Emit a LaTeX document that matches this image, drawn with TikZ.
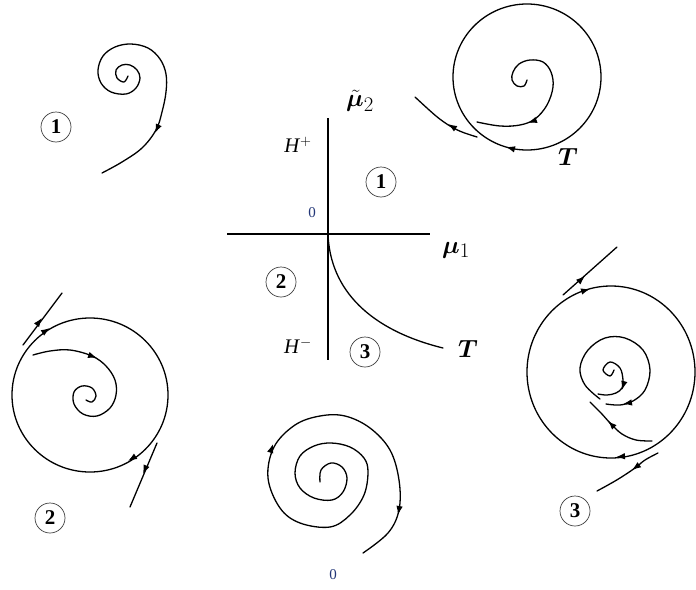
\documentclass[tikz,border=0pt]{standalone}
\usepackage{amsmath,bm}
\usepackage{fontspec}
\setmainfont{Liberation Serif}
\usetikzlibrary{arrows.meta}
\definecolor{zeroblue}{RGB}{35,55,120}
\newcommand{\tipat}[2]{\draw[tipa] (#1) ++(#2+180:3) -- (#1);}
\begin{document}
\begin{tikzpicture}[x=1pt,y=-1pt,
  traj/.style={line width=1.3pt, line cap=round, line join=round},
  axis/.style={line width=1.2pt},
  tipa/.style={-{Latex[length=9pt,width=6.5pt]}, line width=1.2pt},
  circnum/.style={circle, draw=black!75, line width=0.7pt, minimum size=30pt, inner sep=0pt, font=\fontsize{21}{22}\selectfont\bfseries},
  lab/.style={inner sep=0pt, font=\fontsize{20.74}{24}\selectfont},
  biglab/.style={inner sep=0pt, font=\fontsize{24.88}{28}\selectfont},
  zero/.style={inner sep=0pt, text=zeroblue, font=\fontsize{15}{16}\selectfont}]
\useasboundingbox (0,0) rectangle (696,589);
\fill[white] (0,0) rectangle (696,589);

% ---------- central bifurcation diagram ----------
\coordinate (O) at (328,234);
\coordinate (vtop) at (328,118);
\coordinate (vbot) at (328,360);
\coordinate (hl) at (227,234);
\coordinate (hr) at (430,234);
\coordinate (Tend) at (443,348);
\draw[axis] (vtop) -- (vbot);
\draw[axis] (hl) -- (hr);
\draw[traj] (O) .. controls (330,290) and (370,330) .. (Tend);
\node[biglab] (mu2) at (360,101) {$\tilde{\bm{\mu}}_2$};
\node[lab] (Hp) at (298,145) {\textit{H}$^{+}$};
\node[lab] (Hm) at (298,346) {\textit{H}$^{-}$};
\node[biglab] (mu1) at (456,250) {$\bm{\mu}_1$};
\node[biglab] (Tc) at (468,349) {$\bm{T}$};
\node[zero] (zc) at (312,213) {0};
\node[circnum] (c1) at (381,182) {1};
\node[circnum] (c2) at (281,282) {2};
\node[circnum] (c3) at (365,352) {3};

% ---------- panel 1 (top left) ----------
\draw[traj] plot[smooth, tension=0.6] coordinates {(128,76) (124,82) (117,78) (116,70) (122,65) (130,65) (137,70) (140,78) (136,88) (126,94) (111,92) (101,83) (98,70) (103,56) (115,47) (131,44) (148,48) (160,59) (166,74) (166,92) (162,112) (156,130) (142,148) (122,162) (102,173)};
\tipat{155,133}{115}
\node[circnum] (p1) at (56,127) {1};

% ---------- panel T (top right) ----------
\coordinate (Tc0) at (527,77);
\draw[traj] (Tc0) ellipse [x radius=74, y radius=73];
\tipat{506,147}{195}
\draw[traj] plot[smooth, tension=0.6] coordinates {(527,80) (524,86) (517,86) (512,80) (513,72) (519,64) (530,60) (543,62) (551,72) (553,87) (547,105) (535,119) (520,125) (500,126) (477,122)};
\tipat{528,123}{160}
\draw[traj] plot[smooth, tension=0.6] coordinates {(477,137) (462,132) (450,126) (436,116) (415,97)};
\tipat{448,124}{212}
\node[biglab] (Tlab) at (568,157) {$\bm{T}$};

% ---------- panel 2 (left) ----------
\coordinate (C2) at (90,395);
\draw[traj] (C2) ellipse [x radius=78, y radius=77];
\tipat{50,328}{-33}
\tipat{128,461}{148}
\draw[traj] (23,345) -- (62,293);
\tipat{42,318}{-53}
\draw[traj] (157,443) -- (130,507);
\tipat{143,474}{113}
\draw[traj] plot[smooth, tension=0.6] coordinates {(33,355) (50,351) (70,350) (92,356) (106,366) (115,380) (116,395) (110,408) (97,416) (83,414) (74,404) (74,392) (82,386) (92,388) (96,396) (92,402) (86,400)};
\tipat{97,358}{20}
\node[circnum] (p2) at (50,518) {2};

% ---------- panel 3 (right) ----------
\coordinate (C3) at (611,372);
\draw[traj] (C3) ellipse [x radius=84, y radius=86];
\tipat{590,289}{-16}
\tipat{616,457}{175}
\draw[traj] (563,295) -- (617,247);
\tipat{585,276}{-42}
\draw[traj] plot[smooth, tension=0.6] coordinates {(658,453) (645,460) (635,468) (620,478) (608,485) (597,491)};
\tipat{632,470}{144}
\draw[traj] plot[smooth, tension=0.6] coordinates {(600,399) (585,385) (580,368) (588,350) (605,338) (625,338) (643,350) (650,370) (645,390) (633,401) (620,405) (606,404)};
\tipat{623,404}{170}
\draw[traj] plot[smooth, tension=0.6] coordinates {(614,370) (610,376) (603,370) (610,362) (620,368) (623,380) (622,388) (616,393) (607,395) (598,394)};
\tipat{622,390}{105}
\draw[traj] plot[smooth, tension=0.6] coordinates {(652,441) (636,440) (622,434) (611,424) (601,413) (590,402)};
\tipat{608,421}{225}
\node[circnum] (p3) at (575,511) {3};

% ---------- panel 0 (bottom) ----------
\draw[traj] plot[smooth, tension=0.6] coordinates {(320,482) (321,470) (331,463) (342,467) (347,478) (343,492) (332,500) (314,498) (300,488) (295,473) (300,456) (314,446) (331,443) (350,447) (364,458) (368,472) (364,495) (350,515) (330,527) (300,523) (280,508) (268,478) (274,447) (295,425) (320,416) (345,416) (370,428) (390,450) (399,480) (399,510) (388,533) (363,553)};
\tipat{273,444}{-72}
\tipat{398,515}{100}
\node[zero] (z0) at (333,575) {0};
\end{tikzpicture}
\end{document}
